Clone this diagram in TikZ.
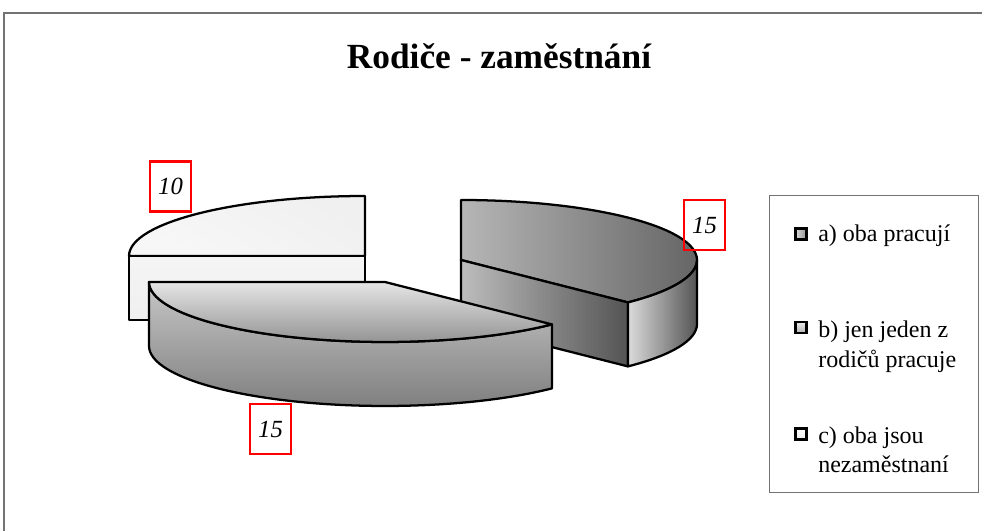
\documentclass[tikz,border=0pt]{standalone}
\usepackage{fontspec}
\setmainfont{Liberation Serif}
\usetikzlibrary{calc}
\definecolor{aDark}{gray}{0.34}
\definecolor{aLight}{gray}{0.80}
\definecolor{aCutL}{gray}{0.74}
\definecolor{aCutR}{gray}{0.33}
\definecolor{aSideL}{gray}{0.86}
\definecolor{aSideR}{gray}{0.33}
\definecolor{bTopT}{gray}{0.90}
\definecolor{bTopB}{gray}{0.55}
\definecolor{bSideT}{gray}{0.78}
\definecolor{bSideB}{gray}{0.50}
\definecolor{cTopT}{gray}{0.94}
\definecolor{cTopB}{gray}{0.97}
\definecolor{frameGray}{gray}{0.45}
\begin{document}
\begin{tikzpicture}[x=0.75pt,y=0.75pt,
  edge/.style={draw=black,line width=1.7pt,line join=round},
  lbl/.style={draw=red,line width=1.8pt,minimum width=31pt,minimum height=37.5pt,inner sep=0pt,font=\fontsize{18.5}{20}\selectfont\itshape},
  legtext/.style={anchor=base west,font=\fontsize{18}{20}\selectfont,inner sep=0pt},
  legmark/.style={draw=black,line width=1.7pt,minimum size=8.2pt,inner sep=0pt},
  ell/.style={x radius=177pt,y radius=45pt}
]
\useasboundingbox (0,0) rectangle (982,-531);
\fill[white] (0,0) rectangle (982,-531);
\draw[frameGray,line width=1.2pt] (982,-13) -- (4,-13) -- (4,-531);

% title
\node (title) [font=\fontsize{26.5}{30}\selectfont\bfseries] at (499,-56) {Rodiče - zaměstnání};

% slice c
\coordinate (C) at (365,-256);
\shadedraw[edge,top color=cTopT,bottom color=cTopB,shading angle=-30] (C) -- ++(0,60) arc[start angle=90,end angle=180,ell] -- cycle;
\shadedraw[edge,top color=cTopB!60!cTopT,bottom color=cTopT] ($(C)+(-236,0)$) rectangle ++(236,-64);

% slice a
\coordinate (A) at (461,-260);
\coordinate (Ae) at ($(A)+(166.9,-42.4)$);
\begin{scope}
  \clip (A) -- ++(0,60) arc[start angle=90,end angle=-45,ell] -- cycle;
  \shade[left color=aLight,right color=aDark,rotate around={24:(A)}] ($(A)+(0,-160)$) rectangle ($(A)+(235,160)$);
\end{scope}
\draw[edge] (A) -- ++(0,60) arc[start angle=90,end angle=-45,ell] -- cycle;
\shadedraw[edge,left color=aCutL,right color=aCutR] (A) -- (Ae) -- ++(0,-64) -- ($(A)+(0,-64)$) -- cycle;
\shadedraw[edge,left color=aSideL,right color=aSideR] (Ae) arc[start angle=-45,end angle=0,ell] -- ++(0,-64) arc[start angle=0,end angle=-45,ell] -- cycle;

% slice b
\coordinate (B) at (385,-282);
\coordinate (Be) at ($(B)+(166.9,-42.4)$);
\shadedraw[edge,top color=bSideT,bottom color=bSideB] (Be) arc[start angle=-45,end angle=-180,ell] -- ++(0,-64) arc[start angle=-180,end angle=-45,ell] -- cycle;
\shadedraw[edge,top color=bTopT,bottom color=bTopB] (B) -- (Be) arc[start angle=-45,end angle=-180,ell] -- cycle;

% data labels
\node[lbl] (l10) at (170.5,-186.5) {10};
\node[lbl] (l15a) at (704.5,-225) {15};
\node[lbl] (l15b) at (270.5,-429) {15};

% legend
\node (legend) [draw=frameGray,line width=0.8pt,minimum width=156.75pt,minimum height=222.75pt,anchor=north west,inner sep=0pt] at (769,-195) {};
\node (ma) [legmark,left color=gray!30,right color=gray!85] at (801,-234) {};
\node (mb) [legmark,top color=gray!15,bottom color=gray!60] at (801,-327.5) {};
\node (mc) [legmark,top color=white,bottom color=gray!15] at (801,-434) {};
\node[legtext] (ta) at (818,-242) {a) oba pracují};
\node[legtext] (tb1) at (818,-337) {b) jen jeden z};
\node[legtext] (tb2) at (818,-367) {rodičů pracuje};
\node[legtext] (tc1) at (818,-443) {c) oba jsou};
\node[legtext] (tc2) at (818,-472) {nezaměstnaní};
\end{tikzpicture}
\end{document}
